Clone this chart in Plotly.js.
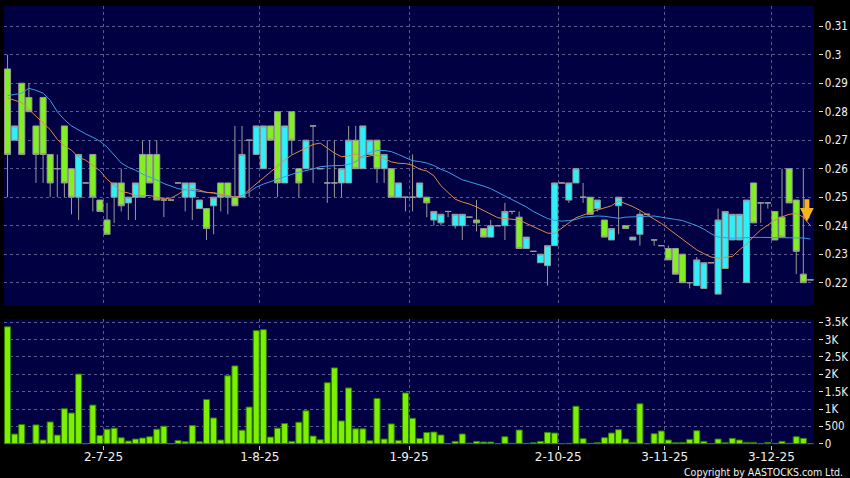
<!DOCTYPE html>
<html><head><meta charset="utf-8">
<script src="https://cdn.plot.ly/plotly-3.0.1.min.js"></script>
<style>html,body{margin:0;padding:0;background:#000;}#chart{width:850px;height:478px;}</style>
</head><body><div id="chart"></div>
<script>
// tick labels (month starts) and where they fall (between candles)
const tickLabels = ['2-7-25','1-8-25','1-9-25','2-10-25','3-11-25','3-12-25'];
const tickPos = [13.5, 35.5, 56.5, 77.5, 92.5, 107.5];

const openP = [.295,.270,.290,.285,.275,.285,.265,.260,.275,.260,
.250,.255,.265,.249,.242,.250,.255,.248,.250,.265,
.265,.265,.249,.249,.255,.250,.250,.246,.246,.247,
.255,.255,.250,.250,.270,.265,.260,.275,.280,.255,
.280,.260,.260,.275,.260,.255,.255,.255,.255,.270,
.260,.265,.270,.260,.260,.250,.250,.250,.250,.250,
.242,.241,.245,.240,.240,.243,.242,.239,.236,.240,
.240,.245,.243,.232,.231,.227,.226,.233,.255,.249,
.255,.250,.250,.246,.242,.235,.247,.240,.235,.237,
.244,.235,.233,.232,.232,.230,.220,.219,.218,.227,
.216,.225,.235,.235,.220,.255,.248,.248,.245,.243,
.260,.249,.223,.221];
const highP = [.300,.275,.290,.290,.275,.285,.265,.265,.275,.260,
.265,.255,.265,.249,.248,.255,.260,.250,.255,.270,
.270,.270,.250,.249,.255,.255,.255,.249,.246,.250,
.255,.255,.275,.275,.270,.275,.275,.275,.280,.275,
.280,.260,.270,.275,.260,.270,.270,.260,.275,.275,
.275,.270,.270,.265,.260,.255,.250,.265,.255,.250,
.245,.244,.245,.244,.244,.243,.249,.239,.242,.240,
.248,.245,.245,.236,.231,.230,.233,.255,.255,.255,
.260,.255,.250,.249,.242,.239,.250,.240,.236,.245,
.244,.235,.233,.233,.232,.230,.220,.229,.227,.227,
.246,.245,.244,.244,.249,.255,.248,.248,.245,.260,
.260,.249,.260,.221];
const lowP = [.250,.270,.265,.280,.255,.255,.250,.250,.250,.244,
.242,.255,.245,.245,.237,.241,.245,.242,.242,.250,
.255,.249,.243,.249,.255,.245,.242,.246,.235,.237,
.245,.244,.247,.250,.250,.265,.260,.270,.250,.255,
.265,.250,.260,.255,.260,.248,.250,.250,.255,.260,
.260,.265,.255,.255,.250,.250,.245,.245,.250,.243,
.240,.240,.243,.239,.235,.243,.238,.236,.236,.240,
.235,.244,.232,.232,.231,.227,.219,.233,.255,.248,
.255,.248,.244,.245,.236,.235,.237,.239,.235,.233,
.244,.233,.233,.228,.223,.220,.218,.219,.218,.227,
.216,.225,.235,.235,.220,.241,.241,.246,.235,.236,
.248,.223,.220,.221];
const closeP = [.265,.275,.265,.280,.265,.265,.255,.260,.255,.250,
.265,.255,.250,.245,.237,.255,.247,.250,.255,.250,
.255,.249,.249,.249,.255,.255,.255,.249,.239,.250,
.250,.250,.247,.265,.270,.275,.275,.270,.255,.275,
.270,.255,.270,.275,.260,.255,.255,.260,.270,.260,
.275,.270,.260,.265,.250,.255,.250,.250,.255,.248,
.245,.244,.245,.244,.244,.243,.241,.236,.240,.240,
.245,.245,.232,.236,.231,.230,.233,.255,.255,.255,
.260,.250,.244,.249,.236,.239,.250,.239,.236,.244,
.244,.235,.233,.228,.223,.220,.220,.228,.227,.227,
.242,.245,.244,.244,.249,.241,.248,.248,.235,.236,
.248,.231,.220,.221];
// volume in thousands of shares
const volume = [3370,276,551,10,542,105,627,247,1007,884,
2005,0,1112,238,418,447,171,76,133,162,
200,418,504,0,95,57,523,57,1273,741,
105,1957,2242,390,1055,3259,3287,190,447,580,
67,618,950,219,114,1758,2185,656,1606,428,
428,86,1302,133,570,95,1463,732,152,323,
336,250,0,67,280,15,67,48,48,0,
200,10,394,10,30,67,327,307,0,10,
1080,144,10,30,173,307,404,135,38,1150,
0,288,365,106,30,38,125,375,67,0,
134,30,154,106,38,38,0,38,10,67,
10,202,154,0];
// moving averages
const ma10 = [.2848,.2840,.2832,.2808,.2785,.2762,.2737,.2703,.2680,.2665,
.2640,.2630,.2612,.2593,.2563,.2540,.2520,.2515,.2506,.2506,
.2506,.2500,.2494,.2497,.2510,.2527,.2529,.2525,.2517,.2516,
.2511,.2507,.2500,.2505,.2526,.2545,.2565,.2586,.2608,.2630,
.2648,.2660,.2673,.2685,.2690,.2672,.2655,.2642,.2645,.2652,
.2638,.2645,.2648,.2635,.2624,.2619,.2618,.2612,.2598,.2592,
.2575,.2540,.2515,.2493,.2483,.2476,.2466,.2453,.2439,.2428,
.2425,.2423,.2420,.2408,.2396,.2386,.2374,.2373,.2390,.2410,
.2428,.2438,.2446,.2455,.2462,.2470,.2487,.2478,.2467,.2454,
.2437,.2423,.2408,.2390,.2372,.2352,.2336,.2315,.2302,.2290,
.2286,.2288,.2292,.2315,.2335,.2362,.2385,.2402,.2420,.2431,
.2440,.2443,.2430,.2400];
const ma20 = [.2856,.2860,.2865,.2882,.2875,.2865,.2840,.2800,.2772,.2750,
.2735,.2722,.2710,.2697,.2676,.2648,.2620,.2605,.2595,.2581,
.2571,.2560,.2548,.2540,.2530,.2527,.2523,.2519,.2517,.2514,
.2508,.2503,.2500,.2506,.2518,.2535,.2546,.2555,.2562,.2572,
.2580,.2588,.2593,.2599,.2607,.2610,.2611,.2611,.2615,.2625,
.2644,.2657,.2664,.2664,.2660,.2650,.2638,.2628,.2625,.2620,
.2611,.2598,.2588,.2573,.2561,.2554,.2547,.2539,.2530,.2517,
.2503,.2492,.2480,.2466,.2450,.2437,.2425,.2419,.2416,.2418,
.2422,.2430,.2433,.2434,.2433,.2430,.2426,.2430,.2432,.2432,
.2433,.2434,.2430,.2427,.2422,.2418,.2410,.2400,.2388,.2372,
.2360,.2357,.2356,.2357,.2359,.2359,.2359,.2359,.2359,.2359,
.2359,.2359,.2357,.2353];
const priceTicks = [0.22,0.23,0.24,0.25,0.26,0.27,0.28,0.29,0.30,0.31];
const priceTickText = ['0.22','0.23','0.24','0.25','0.26','0.27','0.28','0.29','0.3','0.31'];
const volTicks = [0,500,1000,1500,2000,2500,3000,3500];
const volTickText = ['0','500','1K','1.5K','2K','2.5K','3K','3.5K'];

const idx = closeP.map((_, i) => i);
const W = 850, H = 478;
const GRID = '#5a5a8e';
const tickFont = {family: 'DejaVu Sans Condensed, DejaVu Sans, sans-serif', size: 11.5, color: '#f0f0f0'};

const traces = [
  {type: 'candlestick', x: idx, open: openP, high: highP, low: lowP, close: closeP,
   xaxis: 'x', yaxis: 'y', hoverinfo: 'none', whiskerwidth: 0,
   increasing: {line: {color: '#9a9a9a', width: 1}, fillcolor: '#2ef0f8'},
   decreasing: {line: {color: '#9a9a9a', width: 1}, fillcolor: '#80f020'}},
  {type: 'scatter', mode: 'lines', x: idx, y: ma20, xaxis: 'x', yaxis: 'y',
   line: {color: '#3a9ee8', width: 1}, hoverinfo: 'none'},
  {type: 'scatter', mode: 'lines', x: idx, y: ma10, xaxis: 'x', yaxis: 'y',
   line: {color: '#e0874a', width: 1}, hoverinfo: 'none'},
  {type: 'bar', x: idx, y: volume, xaxis: 'x2', yaxis: 'y2', hoverinfo: 'none',
   marker: {color: '#7cf000', line: {color: '#2f7a00', width: 1}}}
];

const xDom = [4 / W, 814 / W];
const common = {showgrid: true, gridcolor: GRID, griddash: '3px,3px', gridwidth: 1,
  zeroline: false, showline: false, fixedrange: true};

const layout = {
  width: W, height: H,
  margin: {l: 0, r: 0, t: 0, b: 0},
  paper_bgcolor: '#000000', plot_bgcolor: '#000042',
  showlegend: false,
  boxgap: 0.15, boxgroupgap: 0, bargap: 0.15,
  font: tickFont,
  xaxis: Object.assign({}, common, {domain: xDom, anchor: 'y', range: [-0.5, idx.length - 0.5],
    tickvals: tickPos, ticktext: tickLabels, showticklabels: false, ticks: '',
    rangeslider: {visible: false}}),
  yaxis: Object.assign({}, common, {domain: [1 - 305.3 / H, 1 - 5.7 / H], range: [0.21207, 0.31719],
    side: 'right', anchor: 'free', position: 817.5 / W, tickvals: priceTicks, ticktext: priceTickText,
    ticks: 'outside', ticklen: 4, tickcolor: '#dddddd', tickfont: tickFont}),
  xaxis2: Object.assign({}, common, {domain: xDom, anchor: 'y2', matches: 'x', range: [-0.5, idx.length - 0.5],
    tickvals: tickPos, ticktext: tickLabels, ticks: 'outside', ticklen: 4, tickcolor: '#cccccc',
    ticklabelstandoff: -3,
    tickfont: {family: 'DejaVu Sans, sans-serif', size: 12, color: '#f0f0f0'}}),
  yaxis2: Object.assign({}, common, {domain: [1 - 444.7 / H, 1 - 319.3 / H], range: [-29, 3585],
    side: 'right', anchor: 'free', position: 817.5 / W, tickvals: volTicks, ticktext: volTickText,
    ticks: 'outside', ticklen: 4, tickcolor: '#dddddd', tickfont: tickFont}),
  annotations: [
    {xref: 'paper', yref: 'paper', x: 845 / W, y: 1 - 472 / H, xanchor: 'right', yanchor: 'middle',
     text: 'Copyright by AASTOCKS.com Ltd.', showarrow: false,
     font: {family: 'DejaVu Sans Condensed, DejaVu Sans, sans-serif', size: 10.5, color: '#f0f0f0'}},
    {xref: 'x', yref: 'y', x: idx.length - 1.5, y: 0.2414, ax: 0, ay: -24, text: '',
     showarrow: true, arrowhead: 2, arrowwidth: 5, arrowsize: 0.55, arrowcolor: '#f6b51e'}
  ]
};

Plotly.newPlot('chart', traces, layout, {staticPlot: true, displayModeBar: false});
</script></body></html>
